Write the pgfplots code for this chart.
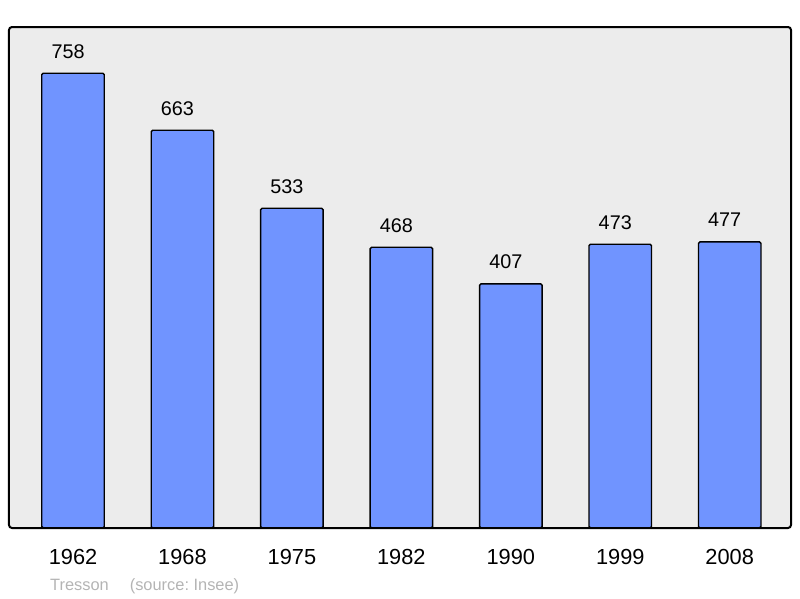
\documentclass[border=0pt]{standalone}
\usepackage{fontspec}
\setmainfont{Liberation Sans}
\usepackage{pgfplots}
\pgfplotsset{compat=1.18}
\definecolor{bg}{HTML}{ECECEC}
\definecolor{barblue}{HTML}{7094FF}
\definecolor{capgray}{HTML}{B4B4B4}
\begin{document}
\begin{tikzpicture}[x=1pt,y=1pt]
\useasboundingbox (0,0) rectangle (800,598);
\begin{axis}[
  at={(9pt,70pt)}, anchor=south west,
  scale only axis, width=782pt, height=501pt,
  xmin=-0.585, xmax=6.56, ymin=0, ymax=835,
  axis background/.style={fill=bg, rounded corners=3pt},
  axis line style={draw=none},
  major tick length=0pt,
  ytick=\empty,
  xtick={0,1,2,3,4,5,6},
  xticklabels={1962,1968,1975,1982,1990,1999,2008},
  xticklabel style={font=\fontsize{21.8}{24}\selectfont, anchor=base, yshift=-36pt, inner sep=0pt},
  /pgf/number format/assume math mode=true,
  ybar, bar width=62.5pt,
  nodes near coords,
  nodes near coords style={font=\fontsize{19.8}{22}\selectfont, anchor=base, yshift=15pt, xshift=-5pt, inner sep=0pt},
  after end axis/.code={\draw[line width=2pt, rounded corners=3pt] (rel axis cs:0,0) rectangle (rel axis cs:1,1);},
  clip=false,
]
\addplot[fill=barblue, draw=black, line width=1.4pt, rounded corners=1.5pt] coordinates {
(0,758) (1,663) (2,533) (3,468) (4,407) (5,473) (6,477)};
\end{axis}
\node[anchor=base west, inner sep=0pt, text=capgray, font=\fontsize{16.4}{18}\selectfont] at (50,8) {Tresson\hspace{21pt}(source:\ Insee)};
\end{tikzpicture}
\end{document}
